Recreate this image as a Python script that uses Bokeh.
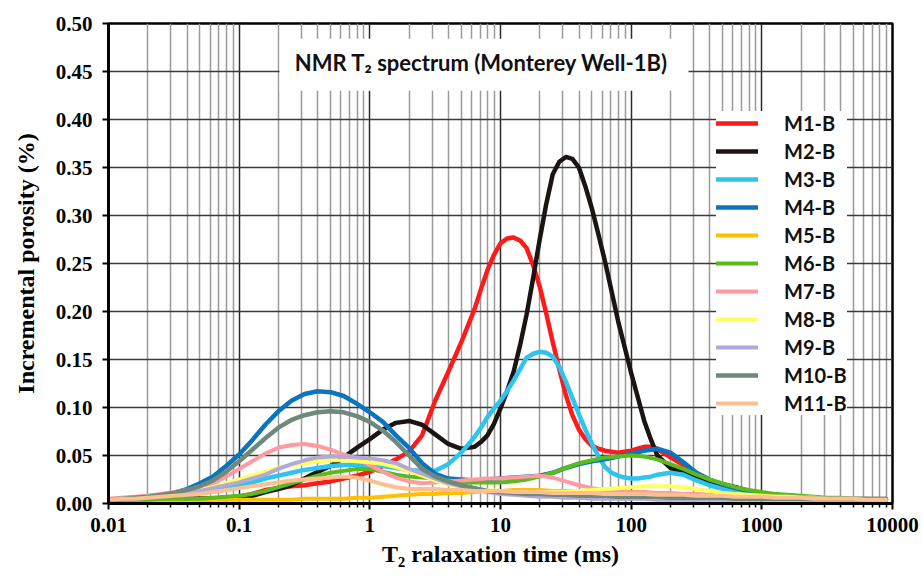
from bokeh.plotting import figure
from bokeh.models import (FixedTicker, Legend, LegendItem, BoxAnnotation, Label,
                          PrintfTickFormatter, Range1d)
from bokeh.embed import file_html
from bokeh.resources import INLINE

# sample grid: log10(T2 / ms) from -2.0 to 3.9 step 0.1, plus the last point 3.95
LOG_T = [round(k * 0.1, 2) for k in range(-20, 40)] + [3.95]
# extra sample points around the main peaks (used by M1, M2, M3)
PEAK_LOG_T = [0.85, 0.95, 1.05, 1.15, 1.25, 1.35, 1.45, 1.55, 1.65, 1.75,
              1.85, 1.95, 2.05, 2.15]

SERIES = ["M1-B", "M2-B", "M3-B", "M4-B", "M5-B", "M6-B",
          "M7-B", "M8-B", "M9-B", "M10-B", "M11-B"]

M1 = [0.004, 0.004, 0.004, 0.004, 0.004, 0.005, 0.005, 0.005, 0.005, 0.006,
      0.007, 0.010, 0.014, 0.016, 0.018, 0.019, 0.021, 0.023, 0.026, 0.029,
      0.033, 0.039, 0.046, 0.054, 0.071, 0.107, 0.137, 0.168, 0.202, 0.243,
      0.271, 0.277, 0.266, 0.226, 0.168, 0.113, 0.077, 0.060, 0.055, 0.053,
      0.055, 0.059, 0.057, 0.048, 0.040, 0.030, 0.024, 0.019, 0.015, 0.012,
      0.010, 0.009, 0.008, 0.007, 0.006, 0.005, 0.005, 0.004, 0.004, 0.004,
      0.004]
M1_PEAK = [0.223, 0.259, 0.276, 0.274, 0.248, 0.198, 0.140, 0.092, 0.067, 0.057,
           0.054, 0.054, 0.057, 0.059]
M2 = [0.004, 0.004, 0.004, 0.004, 0.004, 0.005, 0.005, 0.005, 0.005, 0.006,
      0.006, 0.008, 0.012, 0.015, 0.019, 0.026, 0.033, 0.039, 0.048, 0.058,
      0.067, 0.077, 0.084, 0.086, 0.082, 0.072, 0.062, 0.057, 0.059, 0.071,
      0.099, 0.137, 0.197, 0.275, 0.343, 0.361, 0.350, 0.307, 0.252, 0.190,
      0.136, 0.086, 0.050, 0.037, 0.033, 0.028, 0.023, 0.020, 0.017, 0.013,
      0.011, 0.009, 0.008, 0.007, 0.006, 0.005, 0.005, 0.004, 0.004, 0.004,
      0.004]
M2_PEAK = [0.064, 0.083, 0.117, 0.165, 0.235, 0.312, 0.356, 0.359, 0.330, 0.280,
           0.221, 0.163, 0.111, 0.067]
M3 = [0.004, 0.005, 0.005, 0.006, 0.007, 0.008, 0.009, 0.011, 0.013, 0.016,
      0.019, 0.022, 0.026, 0.029, 0.032, 0.035, 0.037, 0.039, 0.040, 0.040,
      0.040, 0.039, 0.037, 0.035, 0.034, 0.034, 0.041, 0.053, 0.069, 0.090,
      0.107, 0.128, 0.152, 0.158, 0.153, 0.127, 0.093, 0.062, 0.038, 0.029,
      0.026, 0.027, 0.030, 0.032, 0.030, 0.024, 0.019, 0.015, 0.012, 0.010,
      0.009, 0.008, 0.007, 0.006, 0.005, 0.005, 0.004, 0.004, 0.004, 0.004,
      0.004]
M3_PEAK = [0.079, 0.099, 0.117, 0.140, 0.156, 0.157, 0.142, 0.110, 0.077, 0.049,
           0.032, 0.027, 0.026, 0.028]
M4 = [0.004, 0.005, 0.006, 0.007, 0.009, 0.011, 0.015, 0.021, 0.028, 0.039,
      0.051, 0.066, 0.082, 0.096, 0.107, 0.114, 0.117, 0.116, 0.112, 0.104,
      0.095, 0.085, 0.071, 0.058, 0.042, 0.031, 0.026, 0.025, 0.024, 0.025,
      0.026, 0.027, 0.028, 0.029, 0.032, 0.037, 0.041, 0.044, 0.046, 0.049,
      0.052, 0.055, 0.057, 0.053, 0.043, 0.032, 0.025, 0.020, 0.016, 0.013,
      0.011, 0.009, 0.008, 0.007, 0.006, 0.005, 0.005, 0.004, 0.004, 0.004,
      0.004]
M5 = [0.003, 0.003, 0.003, 0.003, 0.003, 0.003, 0.003, 0.003, 0.004, 0.004,
      0.004, 0.004, 0.004, 0.004, 0.004, 0.005, 0.005, 0.005, 0.005, 0.006,
      0.006, 0.007, 0.008, 0.009, 0.010, 0.010, 0.011, 0.011, 0.012, 0.013,
      0.013, 0.014, 0.014, 0.014, 0.013, 0.013, 0.012, 0.012, 0.011, 0.011,
      0.010, 0.010, 0.009, 0.009, 0.008, 0.007, 0.007, 0.006, 0.006, 0.006,
      0.005, 0.005, 0.005, 0.005, 0.004, 0.004, 0.004, 0.004, 0.004, 0.004,
      0.004]
M6 = [0.004, 0.004, 0.004, 0.004, 0.005, 0.005, 0.005, 0.005, 0.006, 0.007,
      0.008, 0.010, 0.013, 0.017, 0.021, 0.025, 0.029, 0.032, 0.034, 0.036,
      0.036, 0.033, 0.030, 0.028, 0.027, 0.026, 0.024, 0.022, 0.022, 0.022,
      0.022, 0.023, 0.025, 0.028, 0.032, 0.037, 0.042, 0.045, 0.048, 0.049,
      0.050, 0.049, 0.046, 0.041, 0.036, 0.030, 0.025, 0.021, 0.017, 0.014,
      0.012, 0.010, 0.009, 0.008, 0.007, 0.006, 0.006, 0.005, 0.005, 0.004,
      0.004]
M7 = [0.005, 0.006, 0.007, 0.008, 0.010, 0.012, 0.014, 0.017, 0.021, 0.028,
      0.036, 0.044, 0.052, 0.058, 0.061, 0.062, 0.060, 0.056, 0.051, 0.047,
      0.040, 0.033, 0.027, 0.023, 0.021, 0.022, 0.023, 0.024, 0.025, 0.026,
      0.026, 0.027, 0.028, 0.029, 0.027, 0.023, 0.019, 0.016, 0.014, 0.013,
      0.012, 0.012, 0.011, 0.011, 0.010, 0.010, 0.009, 0.009, 0.008, 0.008,
      0.007, 0.007, 0.006, 0.006, 0.006, 0.005, 0.005, 0.005, 0.004, 0.004,
      0.004]
M8 = [0.004, 0.005, 0.006, 0.007, 0.008, 0.010, 0.012, 0.014, 0.017, 0.021,
      0.025, 0.029, 0.033, 0.037, 0.040, 0.042, 0.044, 0.045, 0.045, 0.044,
      0.043, 0.041, 0.038, 0.034, 0.029, 0.024, 0.020, 0.017, 0.015, 0.014,
      0.013, 0.012, 0.012, 0.012, 0.012, 0.012, 0.013, 0.014, 0.015, 0.016,
      0.017, 0.018, 0.018, 0.018, 0.017, 0.015, 0.013, 0.011, 0.010, 0.009,
      0.008, 0.007, 0.007, 0.006, 0.006, 0.005, 0.005, 0.005, 0.004, 0.004,
      0.004]
M9 = [0.004, 0.005, 0.006, 0.007, 0.008, 0.009, 0.011, 0.013, 0.016, 0.019,
      0.022, 0.026, 0.030, 0.036, 0.041, 0.045, 0.048, 0.049, 0.049, 0.048,
      0.047, 0.045, 0.042, 0.036, 0.031, 0.026, 0.021, 0.018, 0.015, 0.012,
      0.010, 0.009, 0.008, 0.007, 0.007, 0.006, 0.006, 0.005, 0.005, 0.005,
      0.005, 0.005, 0.004, 0.004, 0.004, 0.004, 0.004, 0.004, 0.004, 0.004,
      0.004, 0.004, 0.004, 0.004, 0.003, 0.003, 0.003, 0.003, 0.003, 0.003,
      0.003]
M10 = [0.004, 0.005, 0.006, 0.007, 0.009, 0.011, 0.014, 0.018, 0.024, 0.033,
       0.044, 0.056, 0.068, 0.079, 0.087, 0.092, 0.095, 0.096, 0.095, 0.091,
       0.085, 0.076, 0.064, 0.050, 0.036, 0.028, 0.023, 0.019, 0.016, 0.013,
       0.012, 0.011, 0.010, 0.010, 0.009, 0.009, 0.008, 0.008, 0.008, 0.007,
       0.007, 0.007, 0.007, 0.006, 0.006, 0.006, 0.006, 0.006, 0.005, 0.005,
       0.005, 0.005, 0.005, 0.005, 0.005, 0.005, 0.005, 0.005, 0.005, 0.005,
       0.005]
M11 = [0.004, 0.005, 0.005, 0.006, 0.007, 0.008, 0.009, 0.010, 0.012, 0.014,
       0.016, 0.018, 0.020, 0.022, 0.024, 0.025, 0.026, 0.027, 0.028, 0.027,
       0.024, 0.020, 0.017, 0.015, 0.015, 0.015, 0.014, 0.014, 0.013, 0.013,
       0.013, 0.012, 0.012, 0.012, 0.011, 0.011, 0.011, 0.011, 0.010, 0.010,
       0.010, 0.010, 0.009, 0.009, 0.009, 0.008, 0.008, 0.008, 0.007, 0.007,
       0.007, 0.006, 0.006, 0.006, 0.005, 0.005, 0.005, 0.005, 0.004, 0.004,
       0.004]

VALUES = [M1, M2, M3, M4, M5, M6, M7, M8, M9, M10, M11]
PEAKS = {0: M1_PEAK, 1: M2_PEAK, 2: M3_PEAK}
COLORS = ["#FF1A1A", "#1A1412", "#2EC4F0", "#0A74BE", "#FFC000", "#5CBB1C",
          "#FF9AA2", "#FFFF5E", "#B4A8D8", "#6F8A7C", "#FFBF90"]
WIDTHS = [4.5, 4.5, 4.5, 4.5, 4, 4, 4, 4, 4, 4.5, 4]

X_TICKS = [0.01, 0.1, 1.0, 10.0, 100.0, 1000.0, 10000.0]
X_TICK_LABELS = ["0.01", "0.1", "1", "10", "100", "1000", "10000"]
Y_TICKS = [0.0, 0.05, 0.1, 0.15, 0.2, 0.25, 0.3, 0.35, 0.4, 0.45, 0.5]

p = figure(width=922, height=576, x_axis_type="log",
           x_range=Range1d(0.01, 10000), y_range=Range1d(0, 0.5),
           output_backend="svg", toolbar_location=None,
           min_border_left=108, min_border_right=30,
           min_border_top=23, min_border_bottom=73)
p.background_fill_color = "white"
p.border_fill_color = "white"
p.outline_line_color = "black"
p.outline_line_width = 2.5

minor = [m * 10 ** e for e in range(-2, 4) for m in range(2, 10)]
xt = FixedTicker(ticks=X_TICKS, minor_ticks=minor)
p.xaxis.ticker = xt
p.xgrid.ticker = xt
p.xaxis.major_label_overrides = {t: l for t, l in zip(X_TICKS, X_TICK_LABELS)}
yt = FixedTicker(ticks=Y_TICKS)
p.yaxis.ticker = yt
p.ygrid.ticker = yt
p.yaxis.formatter = PrintfTickFormatter(format="%.2f")

p.xgrid.grid_line_color = "#2a2a2a"
p.xgrid.grid_line_width = 1.5
p.xgrid.minor_grid_line_color = "#9a9a9a"
p.xgrid.minor_grid_line_width = 1.5
p.ygrid.grid_line_color = "#3a3a3a"
p.ygrid.grid_line_width = 1.4

for ax in (p.xaxis, p.yaxis):
    ax.axis_line_color = "black"
    ax.axis_line_width = 3
    ax.major_tick_line_color = "black"
    ax.major_tick_line_width = 2
    ax.major_tick_in = 0
    ax.major_tick_out = 6
    ax.major_label_text_font = "Liberation Serif"
    ax.major_label_text_font_style = "bold"
    ax.major_label_text_font_size = "21px"
    ax.major_label_text_color = "black"
    ax.axis_label_text_font = "Liberation Serif"
    ax.axis_label_text_font_style = "bold"
    ax.axis_label_text_font_size = "24px"
    ax.axis_label_text_color = "black"
p.xaxis.minor_tick_line_color = "black"
p.xaxis.minor_tick_line_width = 1.5
p.xaxis.minor_tick_in = 0
p.xaxis.minor_tick_out = 4
p.yaxis.minor_tick_line_color = None
p.xaxis.major_label_standoff = 8
p.yaxis.major_label_standoff = 10
p.xaxis.axis_label = "T\u2082 ralaxation time (ms)"
p.yaxis.axis_label = "Incremental porosity (%)"
p.xaxis.axis_label_standoff = 6
p.yaxis.axis_label_standoff = 14

# white box behind the title text
title_box = BoxAnnotation(left=10 ** -0.691, right=10 ** 2.439, bottom=0.430, top=0.484,
                          fill_color="white", fill_alpha=1.0, line_color=None,
                          level="underlay")
p.add_layout(title_box)
p.add_layout(Label(x=10 ** 0.855, y=0.459, text="NMR T\u2082 spectrum (Monterey Well-1B)",
                   text_align="center", text_baseline="middle",
                   text_font="Lato", text_font_style="bold", text_font_size="22px",
                   text_color="#111111"))

items = []
for i, (name, vals, col, w) in enumerate(zip(SERIES, VALUES, COLORS, WIDTHS)):
    pts = list(zip(LOG_T, vals))
    if i in PEAKS:
        pts = sorted(pts + list(zip(PEAK_LOG_T, PEAKS[i])))
    xs = [10 ** a for a, _ in pts]
    ys = [b for _, b in pts]
    r = p.line(xs, ys, line_color=col, line_width=w, line_join="round", line_cap="round")
    items.append(LegendItem(label=name, renderers=[r]))

legend = Legend(items=items, location=(608, 88))
legend.glyph_width = 42
legend.glyph_height = 22
legend.label_height = 22
legend.label_standoff = 26
legend.spacing = 4
legend.padding = 18
legend.margin = 0
legend.border_line_color = None
legend.background_fill_color = "white"
legend.background_fill_alpha = 1.0
legend.label_text_font = "Lato"
legend.label_text_font_style = "bold"
legend.label_text_font_size = "20px"
legend.label_text_color = "#111111"
p.add_layout(legend)

open("out.html", "w").write(file_html(p, INLINE))
